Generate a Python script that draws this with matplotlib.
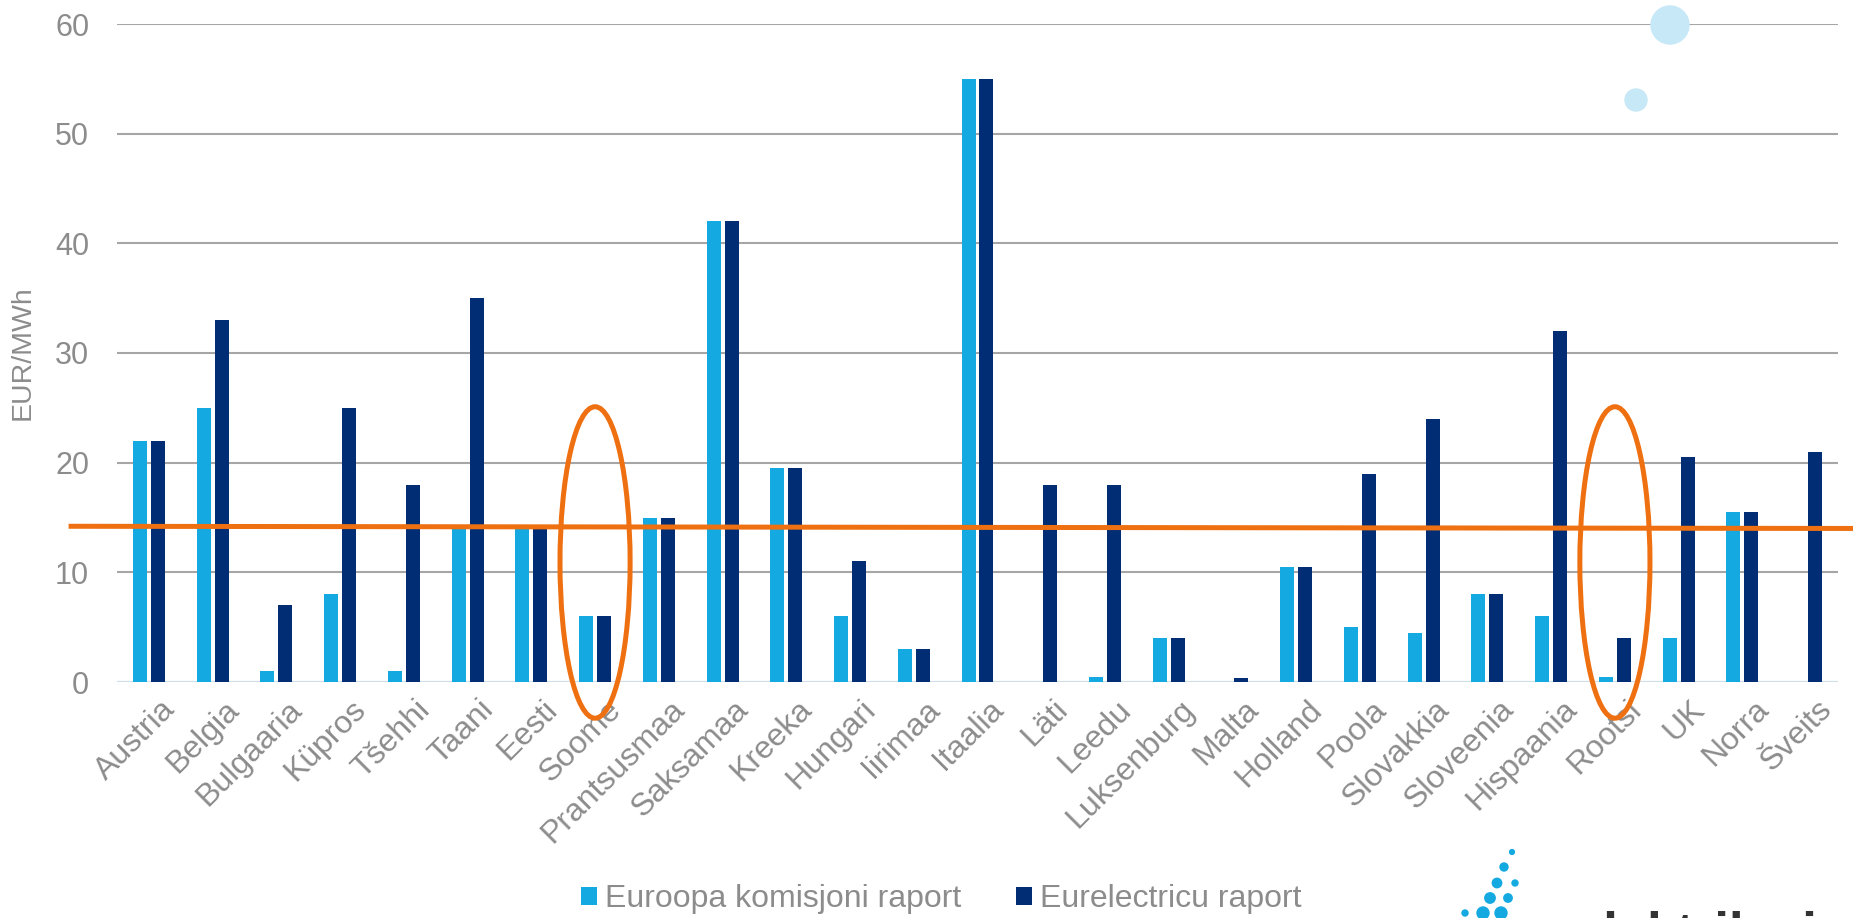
import matplotlib
matplotlib.use("Agg")
import matplotlib.pyplot as plt
import matplotlib.transforms as mtransforms
import numpy as np
from matplotlib.patches import Ellipse

plt.rcParams['font.family'] = ['Liberation Sans', 'DejaVu Sans']

countries = ["Austria", "Belgia", "Bulgaaria", "Küpros", "Tšehhi", "Taani", "Eesti",
             "Soome", "Prantsusmaa", "Saksamaa", "Kreeka", "Hungari", "Iirimaa",
             "Itaalia", "Läti", "Leedu", "Luksenburg", "Malta", "Holland", "Poola",
             "Slovakkia", "Sloveenia", "Hispaania", "Rootsi", "UK", "Norra", "Šveits"]
ec_report = [22, 25, 1, 8, 1, 14, 14, 6, 15, 42, 19.5, 6, 3, 55, 0, 0.5, 4, 0,
             10.5, 5, 4.5, 8, 6, 0.5, 4, 15.5, 0]
eurelectric = [22, 33, 7, 25, 18, 35, 14, 6, 15, 42, 19.5, 11, 3, 55, 18, 18, 4, 0.4,
               10.5, 19, 24, 8, 32, 4, 20.5, 15.5, 21]
avg_line = [14.2, 14.0]           # hand-drawn orange level line (left, right)
circled = ["Soome", "Rootsi"]

light = "#14a9e1"
dark = "#002d74"
orange = "#ee7011"
grey = "#8c8c8c"

W, H = 1853, 918
fig = plt.figure(figsize=(W / 100, H / 100), dpi=100)
ax = fig.add_axes([117 / W, 1 - 682 / H, 1721 / W, 658 / H])

x = np.arange(len(countries))
w = 0.22
ax.bar(x - 0.141, ec_report, w, color=light, label="Euroopa komisjoni raport", zorder=3)
ax.bar(x + 0.141, eurelectric, w, color=dark, label="Eurelectricu raport", zorder=3)

ax.set_xlim(-0.5, len(countries) - 0.5)
ax.set_ylim(0, 60)
ax.set_yticks(np.arange(0, 61, 10))
ax.yaxis.grid(True, color="#a6a6a6", linewidth=1.5, zorder=0)
ax.axhline(0, color="#d5e6f3", linewidth=2, zorder=2)
for s in ax.spines.values():
    s.set_visible(False)
ax.tick_params(axis="both", length=0, labelcolor=grey)
ax.tick_params(axis="y", pad=20, labelsize=22)
ax.set_xticks(x)
ax.set_xticklabels(countries, rotation=45, ha="right", rotation_mode="anchor", fontsize=23)
ax.tick_params(axis="x", pad=9)
shift = mtransforms.ScaledTranslation(0.11, 0, fig.dpi_scale_trans)
for lab in ax.get_xticklabels():
    lab.set_transform(lab.get_transform() + shift)
ax.set_ylabel("EUR/MWh", fontsize=20.5, color=grey, labelpad=14)

# orange level line and ellipses
ax.plot([-1.22, 26.75], avg_line, color=orange, linewidth=3.6, clip_on=False, zorder=5)
for c in circled:
    i = countries.index(c)
    ax.add_patch(Ellipse((i, 10.9), 1.1, 28.4, fill=False, edgecolor=orange,
                         linewidth=3.6, clip_on=False, zorder=5))

fig.legend(loc="center", bbox_to_anchor=(0.508, 19 / H), ncol=2, frameon=False,
           fontsize=23, labelcolor=grey, handlelength=0.5, handleheight=0.5,
           handletextpad=0.25, columnspacing=1.7, borderpad=0.2)

# decorative logo bubbles
def bubble(cx, cy, r, color):
    fig.patches.append(Ellipse((cx / W, 1 - cy / H), 2 * r / W, 2 * r / H,
                               transform=fig.transFigure, color=color, zorder=0))

bubble(1670, 25, 19, "#c7e8f7")
bubble(1636, 100, 11, "#c7e8f7")
dots = [(1512, 852, 2.4), (1504, 867, 4), (1515, 883, 3), (1497, 883, 4.7), (1490, 898, 5.2),
        (1508, 898, 4.2), (1465, 913, 3), (1483, 913, 6), (1501, 913, 6)]
for cx, cy, r in dots:
    bubble(cx, cy, r, light)
fig.text(1574 / W, -31 / H, "elektrilevi", fontsize=38, fontweight="bold",
         color="#333333", va="baseline", ha="left")

fig.savefig("out.png", dpi=100)
